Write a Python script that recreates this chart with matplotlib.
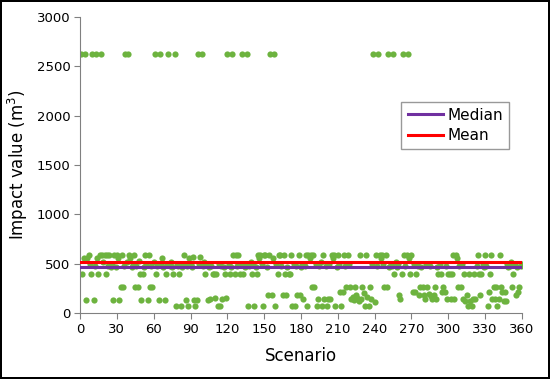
import numpy as np
from matplotlib import pyplot as plt

# Impact value for each of the 360 scenarios (m^3)
impact = [
    2625, 400, 560, 2625, 135, 560, 590, 500, 400, 2625,
    135, 480, 2625, 560, 400, 590, 2625, 590, 520, 590,
    400, 590, 480, 590, 470, 500, 135, 590, 470, 590,
    560, 135, 260, 590, 260, 480, 2625, 520, 2625, 590,
    560, 470, 500, 590, 260, 480, 260, 530, 400, 135,
    400, 470, 590, 500, 135, 590, 260, 480, 260, 520,
    2625, 400, 480, 135, 2625, 500, 560, 470, 135, 400,
    500, 2625, 480, 520, 470, 400, 2625, 70, 500, 480,
    400, 70, 470, 500, 590, 135, 480, 70, 560, 500,
    470, 565, 135, 70, 135, 2625, 500, 565, 2625, 480,
    520, 400, 500, 135, 470, 140, 480, 400, 400, 150,
    400, 70, 500, 70, 480, 140, 470, 400, 150, 2625,
    500, 400, 470, 2625, 590, 400, 590, 480, 590, 400,
    500, 2625, 400, 470, 500, 2625, 70, 480, 520, 400,
    500, 70, 470, 400, 590, 560, 590, 500, 70, 590,
    590, 470, 185, 590, 2625, 185, 560, 2625, 70, 500,
    400, 590, 590, 480, 185, 590, 400, 185, 470, 400,
    400, 590, 70, 500, 70, 480, 185, 590, 185, 470,
    500, 140, 480, 590, 70, 590, 560, 590, 260, 590,
    260, 500, 70, 140, 480, 520, 70, 590, 140, 480,
    70, 140, 500, 140, 590, 560, 590, 70, 470, 590,
    500, 210, 70, 210, 590, 480, 260, 590, 500, 260,
    140, 160, 130, 260, 180, 150, 120, 590, 140, 260,
    200, 70, 590, 160, 70, 260, 140, 500, 2625, 110,
    590, 480, 2625, 590, 560, 590, 500, 260, 590, 260,
    2625, 470, 500, 480, 2625, 400, 520, 470, 500, 180,
    140, 400, 2625, 590, 480, 590, 2625, 560, 400, 590,
    210, 500, 210, 400, 480, 180, 260, 470, 260, 180,
    140, 500, 260, 190, 480, 170, 140, 180, 260, 140,
    470, 400, 500, 400, 210, 260, 210, 480, 140, 400,
    400, 140, 400, 590, 140, 590, 560, 260, 480, 260,
    500, 140, 400, 120, 180, 70, 400, 120, 70, 140,
    400, 140, 480, 590, 400, 180, 400, 500, 470, 590,
    480, 70, 210, 400, 590, 140, 260, 140, 260, 70,
    140, 590, 260, 210, 120, 210, 120, 500, 470, 480,
    520, 260, 400, 500, 180, 470, 210, 260, 480, 500,
]
scenario = np.arange(1, len(impact) + 1)

median_value = 465
mean_value = 520

fig = plt.figure(figsize=(5.5, 3.79), dpi=100,
                 linewidth=1.5, edgecolor='black')
ax = fig.add_axes([0.1455, 0.174, 0.8035, 0.781])

ax.scatter(scenario, impact, s=20, color='#6DB33F', zorder=2,
           linewidths=0)
ax.plot([0, 360], [median_value, median_value], color='#7030A0',
        lw=2.2, label='Median', zorder=3)
ax.plot([0, 360], [mean_value, mean_value], color='#FF0000',
        lw=2.2, label='Mean', zorder=3)

ax.set_xlim(0, 360)
ax.set_ylim(0, 3000)
ax.set_xticks(np.arange(0, 361, 30))
ax.set_yticks(np.arange(0, 3001, 500))

for s in ['top', 'right']:
    ax.spines[s].set_visible(False)
for s in ['left', 'bottom']:
    ax.spines[s].set_color('#808080')
ax.tick_params(direction='out', length=4, color='#808080',
               labelsize=9.5, pad=3)

ax.set_xlabel('Scenario', fontsize=12, labelpad=8)
ax.set_ylabel('Impact value (m$^3$)', fontsize=12, labelpad=5)

leg = ax.legend(loc='upper left', bbox_to_anchor=(0.71, 0.74),
                fontsize=11, frameon=True, fancybox=False,
                handlelength=2.3, borderpad=0.4, labelspacing=0.35,
                handletextpad=0.3)
leg.get_frame().set_edgecolor('#808080')
leg.get_frame().set_linewidth(1)

fig.savefig('out.png', dpi=100)
